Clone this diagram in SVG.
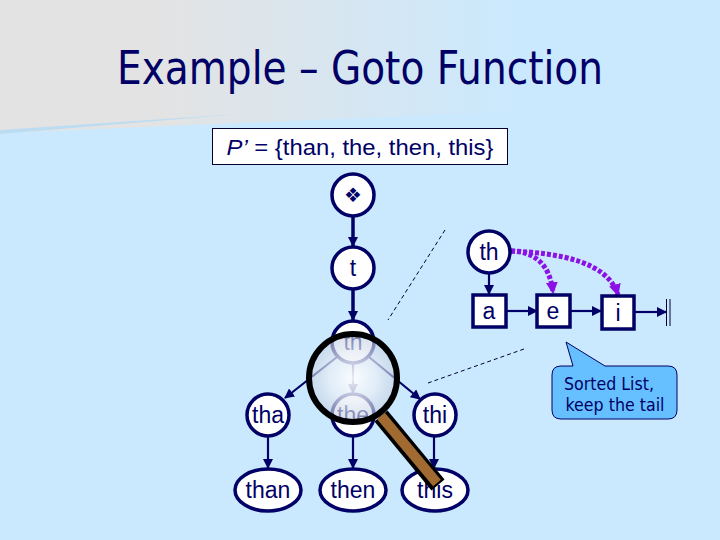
<svg xmlns="http://www.w3.org/2000/svg" width="720" height="540" viewBox="0 0 720 540">
<defs>
<linearGradient id="bg" x1="0" y1="0" x2="1" y2="0"><stop offset="0" stop-color="#e3e3e3"/><stop offset="0.22" stop-color="#e3e3e3"/><stop offset="0.72" stop-color="#cbe9fe"/><stop offset="1" stop-color="#cbe9fe"/></linearGradient>
<radialGradient id="lens" cx="0.5" cy="0.5" r="0.5"><stop offset="0" stop-color="#ffffff" stop-opacity="0.92"/><stop offset="0.55" stop-color="#e8eef6" stop-opacity="0.75"/><stop offset="1" stop-color="#c2cee0" stop-opacity="0.6"/></radialGradient>
<marker id="ah" viewBox="0 0 10 10" refX="9" refY="5" markerWidth="10" markerHeight="10" markerUnits="userSpaceOnUse" orient="auto"><path d="M0 0L10 5L0 10z" fill="#000066"/></marker>
<marker id="pa" viewBox="0 0 10 10" refX="9" refY="5" markerWidth="12" markerHeight="12" markerUnits="userSpaceOnUse" orient="auto"><path d="M0 0L10 5L0 10z" fill="#8a12e6"/></marker>
</defs>
<style>
.n{fill:#fff;stroke:#000066;stroke-width:3.500}
.t{font-family:"Liberation Sans",Arial,sans-serif;font-size:23px;fill:#000066;text-anchor:middle}
.c{stroke:#000066;stroke-width:2.200;fill:none;marker-end:url(#ah)}
.p{stroke:#8a12e6;stroke-width:5;stroke-dasharray:4 2;fill:none;marker-end:url(#pa)}
.d{stroke:#000033;stroke-width:1;stroke-dasharray:4 3;fill:none}
</style>
<rect width="720" height="540" fill="#cbe9fe"/>
<path d="M0 0H720V103L0 133Z" fill="url(#bg)"/>
<path d="M0 130L240 114L0 134Z" fill="#bcdcf2"/>
<text x="360" y="84" font-family="'DejaVu Sans',sans-serif" font-size="46" fill="#000066" text-anchor="middle" textLength="486" lengthAdjust="spacingAndGlyphs">Example – Goto Function</text>
<g id="pattern"><rect x="212.500" y="128.500" width="295" height="36" fill="#fff" stroke="#000033" stroke-width="1"/>
<text x="360" y="155" font-family="'Liberation Sans',Arial,sans-serif" font-size="22" fill="#000066" text-anchor="middle" textLength="267" lengthAdjust="spacingAndGlyphs"><tspan font-style="italic">P’</tspan> = {than, the, then, this}</text></g>
<g id="connectors">
<path class="c" style="stroke-width:3.500" d="M353 216V246"/>
<path class="c" style="stroke-width:3.500" d="M353 289V320"/>
<path class="c" d="M337 357L285 398"/>
<path class="c" d="M353 363V393"/>
<path class="c" d="M369 357L420 399"/>
<path class="c" d="M268 437V468"/>
<path class="c" d="M353 437V468"/>
<path class="c" d="M434 437V468"/>
<path class="c" d="M489 273V294"/>
<path class="c" d="M507 311H537"/>
<path class="c" d="M570 311H601"/>
<path class="c" d="M635 312H666"/>
<path d="M666.500 299V326M670 299V326" stroke="#000033" stroke-width="1" fill="none"/>
<path class="p" d="M511 251C535 252 550 264 553 293"/>
<path class="p" d="M511 251C560 253 608 262 618 295"/>
<path class="d" d="M445 230L388 320"/>
<path class="d" d="M524 349L428 383"/>
</g>
<g id="n-root"><circle class="n" cx="353" cy="195" r="21"/><text x="353" y="202" font-family="'DejaVu Sans',sans-serif" font-size="20" fill="#000066" text-anchor="middle">❖</text></g>
<g id="n-t"><circle class="n" cx="353" cy="268" r="21"/><text class="t" x="353" y="276">t</text></g>
<g id="n-th"><circle class="n" cx="353" cy="342" r="21"/><text class="t" x="353" y="350">th</text></g>
<g id="n-tha"><circle class="n" cx="268" cy="415" r="21"/><text class="t" x="268" y="423">tha</text></g>
<g id="n-the"><circle class="n" cx="353" cy="415" r="21"/><text class="t" x="353" y="423">the</text></g>
<g id="n-thi"><circle class="n" cx="435" cy="415" r="21"/><text class="t" x="435" y="423">thi</text></g>
<g id="n-than"><ellipse class="n" cx="268" cy="490" rx="33" ry="21"/><text class="t" x="268" y="498">than</text></g>
<g id="n-then"><ellipse class="n" cx="353" cy="490" rx="33" ry="21"/><text class="t" x="353" y="498">then</text></g>
<g id="n-this"><ellipse class="n" cx="435" cy="490" rx="33" ry="21"/><text class="t" x="435" y="498">this</text></g>
<g id="n-th2"><circle class="n" cx="489" cy="252" r="21"/><text class="t" x="489" y="260">th</text></g>
<g id="n-a"><rect class="n" x="473" y="295" width="33" height="32"/><text class="t" x="489" y="319">a</text></g>
<g id="n-e"><rect class="n" x="537" y="295" width="33" height="32"/><text class="t" x="553" y="319">e</text></g>
<g id="n-i"><rect class="n" x="602" y="296" width="32" height="33"/><text class="t" x="618" y="321">i</text></g>
<g id="callout"><path d="M566 342L605 366H668Q677 366 677 375V410Q677 419 668 419H561Q552 419 552 410V375Q552 366 561 366H573Z" fill="#66bfff" stroke="#000066" stroke-width="1"/>
<text x="609" y="390" font-family="'DejaVu Sans',sans-serif" font-size="17" fill="#000066" text-anchor="middle" textLength="90" lengthAdjust="spacingAndGlyphs">Sorted List,</text>
<text x="615" y="411" font-family="'DejaVu Sans',sans-serif" font-size="17" fill="#000066" text-anchor="middle" textLength="99" lengthAdjust="spacingAndGlyphs">keep the tail</text></g>
<g id="magnifier">
<path d="M381 416L438 485" stroke="#000" stroke-width="17" fill="none"/>
<path d="M381 416L437 483" stroke="#a06a30" stroke-width="10" fill="none"/>
<circle cx="353" cy="378" r="44" fill="url(#lens)" stroke="#000" stroke-width="6"/>
</g>
</svg>
